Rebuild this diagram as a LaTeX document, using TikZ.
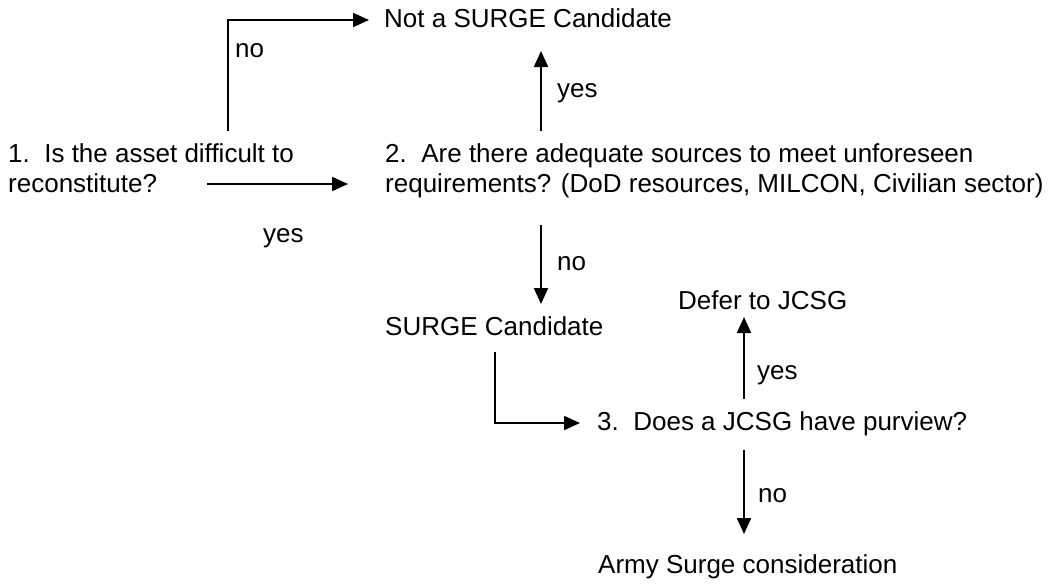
\documentclass[tikz,border=0pt]{standalone}
\usepackage{fontspec}
\setmainfont{Liberation Sans}
\usetikzlibrary{arrows.meta}
\begin{document}
\begin{tikzpicture}[x=1pt,y=-1pt,
  txt/.style={anchor=base west,inner sep=0pt,align=left,
    font=\fontsize{26}{29.5}\selectfont},
  arr/.style={line width=2pt,-{Triangle[length=16pt,width=14pt]}}]
\useasboundingbox (0,0) rectangle (1054,584);

% questions and outcomes (base anchor sits on the last line)
\node[txt] (q1) at (8,192) {1.\ \ Is the asset difficult to\\reconstitute?};
\node[txt] (q2) at (385,192) {2.\ \ Are there adequate sources to meet unforeseen\\requirements? (DoD resources, MILCON, Civilian sector)};
\node[txt] (notc) at (384,27) {Not a SURGE Candidate};
\node[txt] (cand) at (385,335) {SURGE Candidate};
\node[txt] (q3) at (597,430) {3.\ \ Does a JCSG have purview?};
\node[txt] (defer) at (678,309) {Defer to JCSG};
\node[txt] (army) at (598,573) {Army Surge consideration};

% branch labels
\node[txt] (l1) at (235,57) {no};
\node[txt] (l2) at (263,242) {yes};
\node[txt] (l3) at (557,97) {yes};
\node[txt] (l4) at (557,270) {no};
\node[txt] (l5) at (757,379) {yes};
\node[txt] (l6) at (758,502) {no};

% connector end points
\coordinate (q1up) at (228,131);
\coordinate (notcin) at (369,20);
\coordinate (q1out) at (207,184);
\coordinate (q2in) at (348,184);
\coordinate (q2up) at (541,131);
\coordinate (notcbot) at (541,51);
\coordinate (q2down) at (541,225);
\coordinate (candtop) at (541,304);
\coordinate (candout) at (495,352);
\coordinate (q3in) at (580,423);
\coordinate (q3up) at (744,399);
\coordinate (defbot) at (744,317);
\coordinate (q3down) at (744,450);
\coordinate (armytop) at (744,534);

% connectors
\draw[arr] (q1up) |- (notcin);
\draw[arr] (q1out) -- (q2in);
\draw[arr] (q2up) -- (notcbot);
\draw[arr] (q2down) -- (candtop);
\draw[arr] (candout) |- (q3in);
\draw[arr] (q3up) -- (defbot);
\draw[arr] (q3down) -- (armytop);
\end{tikzpicture}
\end{document}
